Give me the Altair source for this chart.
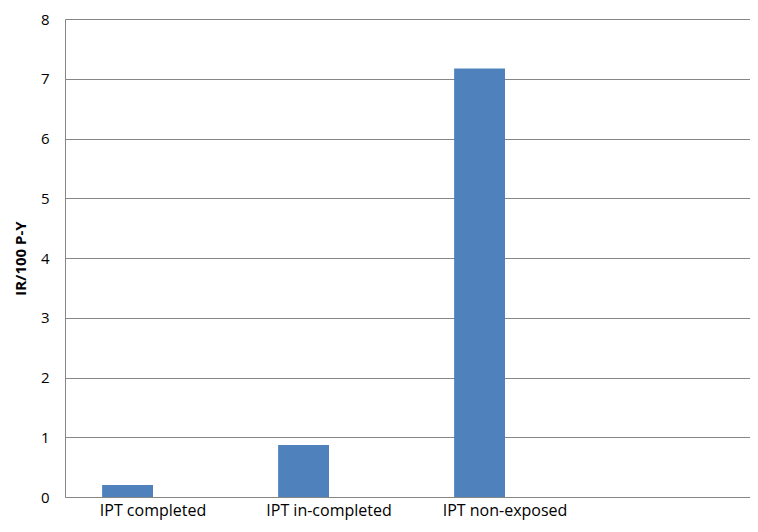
import altair as alt
import pandas as pd

categories = ["IPT completed", "IPT in-completed", "IPT non-exposed", ""]
series_a = [0.2, 0.87, 7.17, None]
series_b = [None, None, None, None]

rows = []
for c, a, b in zip(categories, series_a, series_b):
    rows.append({"cat": c, "series": "A", "value": a})
    rows.append({"cat": c, "series": "B", "value": b})
df = pd.DataFrame(rows)

FONT = "Open Sans"

chart = alt.Chart(df).mark_bar(color="#4F81BD").encode(
    x=alt.X("cat:N", sort=categories, title=None,
            scale=alt.Scale(domain=categories, range=[0, 704], paddingInner=0, paddingOuter=0),
            axis=alt.Axis(labelAngle=0, ticks=False, domain=False, labelPadding=5,
                          labelFontSize=16, labelColor="#000000", labelFont=FONT)),
    xOffset=alt.XOffset("series:N", sort=["A", "B"],
                        scale=alt.Scale(domain=["A", "B"], paddingInner=0, paddingOuter=0.73)),
    y=alt.Y("value:Q", title="IR/100 P-Y",
            scale=alt.Scale(domain=[0, 8], nice=False),
            axis=alt.Axis(values=[0, 1, 2, 3, 4, 5, 6, 7, 8], ticks=False, labelPadding=16,
                          labelFontSize=15, labelColor="#000000", labelFont=FONT,
                          titleFontSize=15, titleFont=FONT, titleFontWeight="bold",
                          titleColor="#000000", titlePadding=12,
                          grid=True, gridColor="#868686", gridWidth=1,
                          domainColor="#868686", domainWidth=1)),
).properties(
    width=685, height=478,
    autosize=alt.AutoSizeParams(type="none"),
    padding={"left": 57, "top": 11, "right": 0, "bottom": 27},
).configure_view(stroke=None).configure(background="#ffffff")

chart.save("out.html", embed_options={"renderer": "svg", "actions": False})
